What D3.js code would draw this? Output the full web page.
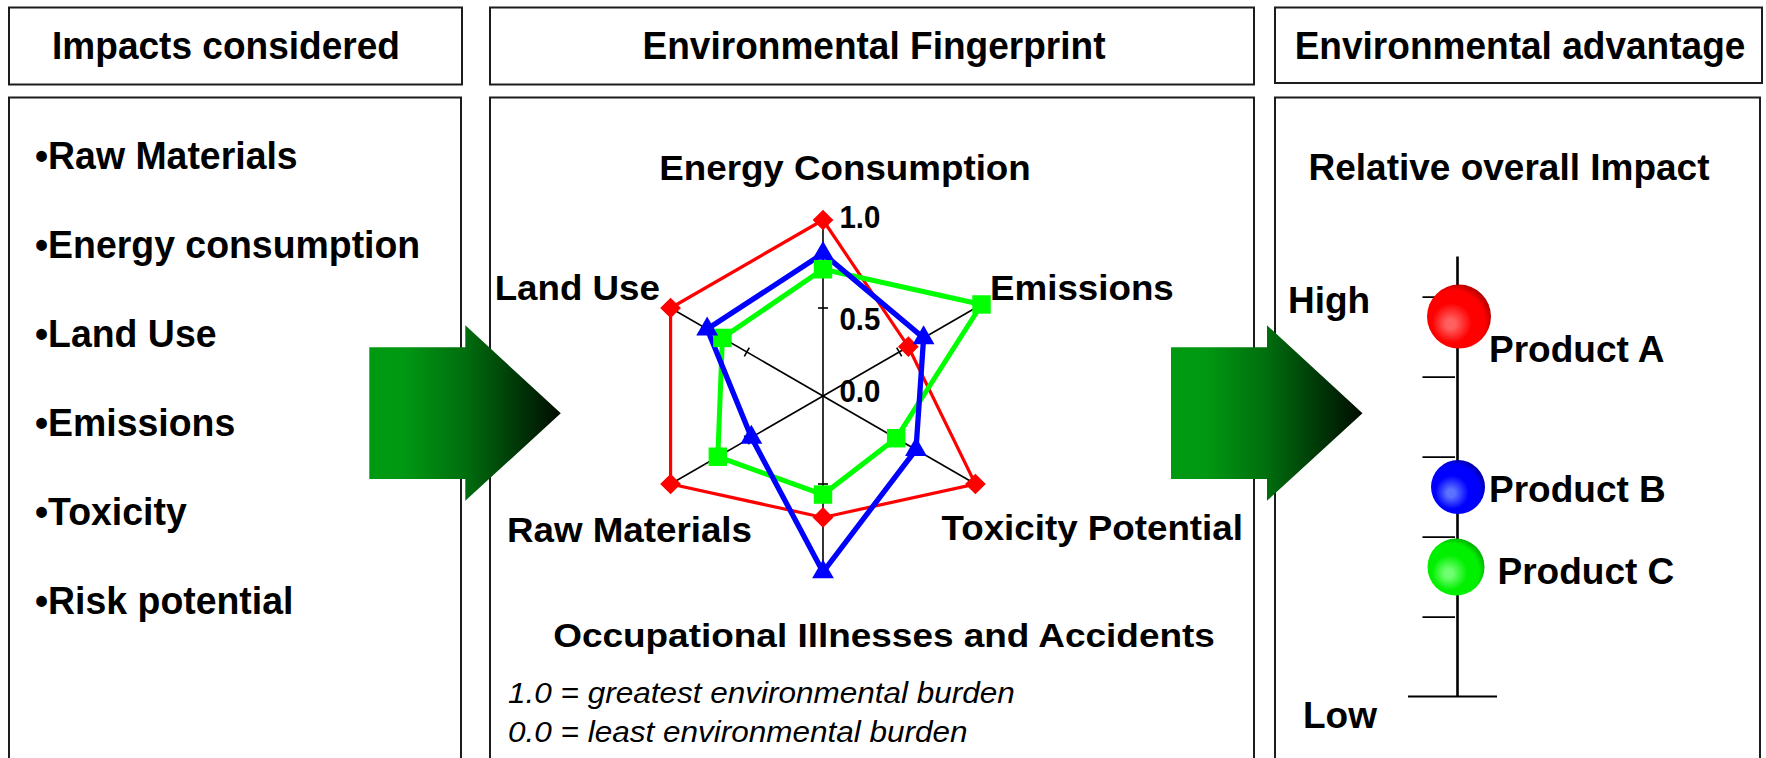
<!DOCTYPE html>
<html>
<head>
<meta charset="utf-8">
<script src="https://cdn.jsdelivr.net/npm/d3@7"></script>
<style>
  html, body { margin: 0; padding: 0; background: #fff; }
  svg { display: block; }
  text { font-family: "Liberation Sans", Arial, Helvetica, sans-serif; fill: #000; }
</style>
</head>
<body>
<svg id="chart" width="1766" height="758"></svg>
<script>
// ---------------- DATA ----------------
const panelTitles = ["Impacts considered", "Environmental Fingerprint", "Environmental advantage"];
const impactsConsidered = ["Raw Materials", "Energy consumption", "Land Use", "Emissions", "Toxicity", "Risk potential"];

// radar axes, clockwise from top
const categories = ["Energy Consumption", "Emissions", "Toxicity Potential",
                    "Occupational Illnesses and Accidents", "Raw Materials", "Land Use"];
const productA = [1.00, 0.56, 1.00, 0.69, 1.00, 1.00];   // red, diamonds
const productB = [0.81, 0.66, 0.61, 1.00, 0.47, 0.76];   // blue, triangles
const productC = [0.72, 1.04, 0.48, 0.56, 0.69, 0.66];   // green, squares
const radarTickValues = [1.0, 0.5, 0.0];
const radarTickLabels = ["1.0", "0.5", "0.0"];
const burdenNotes = ["1.0 = greatest environmental burden", "0.0 = least environmental burden"];

const products = ["Product A", "Product B", "Product C"];
const overallImpact = [4.75, 2.62, 1.62];
const impactTicks = [1, 2, 3, 4, 5];
const impactEnds = ["High", "Low"];

// ---------------- DRAWING ----------------
const svg = d3.select("#chart");
const defs = svg.append("defs");

function txt(g, x, y, s, o = {}) {
  const t = g.append("text")
    .attr("transform", `translate(${x},${y}) scale(${o.sx || 1},1)`)
    .attr("text-anchor", o.anchor || "start")
    .style("font-size", (o.size || 37) + "px")
    .style("font-weight", o.weight || "bold")
    .style("font-style", o.style || "normal")
    .text(s);
  return t;
}

// ---- panel boxes ----
const boxStroke = "#1c1c1c";
const headers = [
  {x: 9, w: 453, h: 77, cx: 226},
  {x: 490, w: 764, h: 77, cx: 874},
  {x: 1275, w: 487, h: 75.5, cx: 1520}
];
const bodies = [
  {x: 9, w: 452}, {x: 490, w: 764}, {x: 1275, w: 485}
];
headers.forEach((b, i) => {
  svg.append("rect").attr("x", b.x).attr("y", 7.5).attr("width", b.w).attr("height", b.h)
    .attr("fill", "#fff").attr("stroke", boxStroke).attr("stroke-width", 2);
  txt(svg, b.cx, 59, panelTitles[i], {anchor: "middle", size: 38, sx: 0.975});
});
bodies.forEach(b => {
  svg.append("rect").attr("x", b.x).attr("y", 97.5).attr("width", b.w).attr("height", 700)
    .attr("fill", "#fff").attr("stroke", boxStroke).attr("stroke-width", 2);
});

// ---- left list ----
const listY = d3.scalePoint().domain(impactsConsidered).range([169, 614]);
impactsConsidered.forEach(d => {
  txt(svg, 35, listY(d), "\u2022" + d, {size: 38, sx: 0.985});
});

// ---- arrows ----
const grad = defs.append("linearGradient").attr("id", "arrowGrad")
  .attr("x1", "0").attr("x2", "1").attr("y1", "0").attr("y2", "0");
[[0, "#009a12"], [0.18, "#009812"], [0.5, "#006e0e"], [0.75, "#003c08"], [1, "#000c00"]]
  .forEach(([o, c]) => grad.append("stop").attr("offset", o).attr("stop-color", c));
function arrow(x0) {
  const pts = [[0, 22], [96, 22], [96, 0], [191.5, 88], [96, 175.5], [96, 153.7], [0, 153.7]];
  svg.append("polygon")
    .attr("points", pts.map(p => [x0 + p[0], 325.3 + p[1]].join(",")).join(" "))
    .attr("fill", "url(#arrowGrad)");
}
arrow(369.3);
arrow(1171);

// ---- radar ----
const cx = 823, cy = 396;
const r = d3.scaleLinear().domain([0, 1]).range([0, 176]);
const ang = d3.scalePoint().domain(categories).range([0, 2 * Math.PI * 5 / 6]);
const radar = svg.append("g").attr("transform", `translate(${cx},${cy})`);
const pt = (cat, v) => [Math.sin(ang(cat)) * r(v), -Math.cos(ang(cat)) * r(v)];

categories.forEach(c => {
  const [x, y] = pt(c, 1);
  radar.append("line").attr("x1", 0).attr("y1", 0).attr("x2", x).attr("y2", y)
    .attr("stroke", "#000").attr("stroke-width", 1.6);
  // tick at 0.5
  const [tx, ty] = pt(c, 0.5);
  const a = ang(c);
  const px = Math.cos(a) * 5, py = Math.sin(a) * 5;
  radar.append("line").attr("x1", tx - px).attr("y1", ty - py).attr("x2", tx + px).attr("y2", ty + py)
    .attr("stroke", "#000").attr("stroke-width", 1.6);
});

const series = [
  {vals: productA, color: "#ff0000", width: 3.2, sym: "diamond"},
  {vals: productC, color: "#00ff00", width: 5, sym: "square"},
  {vals: productB, color: "#0000ff", width: 5.3, sym: "triangle"}
];
const lineR = d3.lineRadial().angle((d, i) => ang(categories[i])).radius(d => r(d))
  .curve(d3.curveLinearClosed);
series.forEach(s => {
  radar.append("path").attr("d", lineR(s.vals)).attr("fill", "none")
    .attr("stroke", s.color).attr("stroke-width", s.width).attr("stroke-linejoin", "miter");
});
series.forEach(s => {
  s.vals.forEach((v, i) => {
    const [x, y] = pt(categories[i], v);
    let path, rot = 0;
    if (s.sym === "diamond") { path = d3.symbol(d3.symbolSquare, 215)(); rot = 45; }
    else if (s.sym === "square") { path = d3.symbol(d3.symbolSquare, 340)(); }
    else { path = d3.symbol(d3.symbolTriangle, 205)(); }
    radar.append("path").attr("d", path)
      .attr("transform", `translate(${x},${y}) rotate(${rot})`)
      .attr("fill", s.color);
  });
});

// radial tick labels
const tickDy = {"1": 7.5, "0.5": 21.5, "0": 5.5};
radarTickValues.forEach((v, i) => {
  txt(radar, 16.5, -r(v) + tickDy[String(v)], radarTickLabels[i], {size: 31, sx: 0.95});
});

// axis labels
const labelPos = [
  {x: 845, y: 180, anchor: "middle", size: 35, sx: 1.05},
  {x: 990, y: 300, anchor: "start", size: 35, sx: 1.05},
  {x: 941.5, y: 540, anchor: "start", size: 35, sx: 1.05},
  {x: 884, y: 647, anchor: "middle", size: 33, sx: 1.12},
  {x: 752, y: 541.5, anchor: "end", size: 35, sx: 1.05},
  {x: 660, y: 300, anchor: "end", size: 35, sx: 1.05}
];
categories.forEach((c, i) => txt(svg, labelPos[i].x, labelPos[i].y, c, labelPos[i]));

// notes
burdenNotes.forEach((n, i) => {
  txt(svg, 508, 703 + i * 38.5, n, {size: 30, sx: 1.05, weight: "normal", style: "italic"});
});

// ---- right panel: relative overall impact ----
txt(svg, 1509, 180, "Relative overall Impact", {anchor: "middle", size: 37});
const axX = 1457.5;
const y = d3.scaleLinear().domain([0, 5]).range([696.6, 296.6]);
svg.append("line").attr("x1", axX).attr("x2", axX).attr("y1", y(5.5)).attr("y2", y(0))
  .attr("stroke", "#000").attr("stroke-width", 2.6);
const ax = svg.append("g").attr("transform", `translate(${axX - 2.5},0)`)
  .call(d3.axisLeft(y).tickValues(impactTicks).tickFormat("").tickSizeInner(32.5).tickSizeOuter(0));
ax.select(".domain").remove();
ax.selectAll(".tick line").attr("stroke", "#000").attr("stroke-width", 1.6);
svg.append("line").attr("x1", 1408).attr("x2", 1497).attr("y1", y(0)).attr("y2", y(0))
  .attr("stroke", "#000").attr("stroke-width", 2);

txt(svg, 1288, 312.5, impactEnds[0], {size: 37});
txt(svg, 1303, 727.5, impactEnds[1], {size: 37});

const ballStyle = [
  {hi: "#ff6060", mid: "#ff0000", dark: "#a80000", rad: 32, dx: 1.5, lx: 1489, ly: 45},
  {hi: "#5a72ff", mid: "#0000ff", dark: "#00009a", rad: 27, dx: 0.5, lx: 1489, ly: 15},
  {hi: "#70ff70", mid: "#00f000", dark: "#00a800", rad: 28.5, dx: -1.5, lx: 1497.5, ly: 17}
];
products.forEach((p, i) => {
  const st = ballStyle[i];
  const g = defs.append("radialGradient").attr("id", "ball" + i)
    .attr("cx", "0.42").attr("cy", "0.58").attr("r", "0.62")
    .attr("fx", "0.36").attr("fy", "0.62");
  g.append("stop").attr("offset", 0).attr("stop-color", st.hi);
  g.append("stop").attr("offset", 0.12).attr("stop-color", st.hi);
  g.append("stop").attr("offset", 0.5).attr("stop-color", st.mid);
  g.append("stop").attr("offset", 0.8).attr("stop-color", st.mid);
  g.append("stop").attr("offset", 1).attr("stop-color", st.dark);
  const by = y(overallImpact[i]);
  svg.append("circle").attr("cx", axX + st.dx).attr("cy", by).attr("r", st.rad)
    .attr("fill", `url(#ball${i})`);
  txt(svg, st.lx, by + st.ly, p, {size: 37});
});
</script>
</body>
</html>
